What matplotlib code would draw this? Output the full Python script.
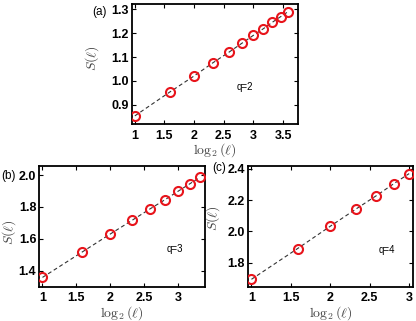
import numpy as np
import matplotlib
matplotlib.use("Agg")
import matplotlib.pyplot as plt

plt.rcParams['mathtext.fontset'] = 'cm'
plt.rcParams['font.family'] = ['Liberation Sans', 'DejaVu Sans']

# Data
x_a = [1.0, 1.585, 2.0, 2.322, 2.585, 2.807, 3.0, 3.170, 3.322, 3.459, 3.585]
s_a = [0.854, 0.953, 1.021, 1.077, 1.120, 1.158, 1.191, 1.219, 1.246, 1.269, 1.290]
x_b = [1.0, 1.585, 2.0, 2.322, 2.585, 2.807, 3.0, 3.170, 3.322]
s_b = [1.358, 1.517, 1.630, 1.716, 1.787, 1.845, 1.898, 1.944, 1.985]
x_c = [1.0, 1.585, 2.0, 2.322, 2.585, 2.807, 3.0]
s_c = [1.693, 1.890, 2.033, 2.142, 2.229, 2.306, 2.370]

panels = [
    dict(x=x_a, y=s_a, pos=[0.317, 0.6137, 0.399, 0.3738], xlim=(0.95, 3.75), ylim=(0.82, 1.322),
         xticks=[1, 1.5, 2, 2.5, 3, 3.5], xtl=['1', '1.5', '2', '2.5', '3', '3.5'],
         yticks=[0.9, 1.0, 1.1, 1.2, 1.3], ytl=['0.9', '1.0', '1.1', '1.2', '1.3'],
         tag='(a)', tagpos=(92, 12), q='q=2', qpos=(0.63, 0.31), ylc=(-0.187, 0.55)),
    dict(x=x_b, y=s_b, pos=[0.094, 0.107, 0.399, 0.377], xlim=(0.95, 3.40), ylim=(1.30, 2.059),
         xticks=[1, 1.5, 2, 2.5, 3], xtl=['1', '1.5', '2', '2.5', '3'],
         yticks=[1.4, 1.6, 1.8, 2.0], ytl=['1.4', '1.6', '1.8', '2.0'],
         tag='(b)', tagpos=(1, 176), q='q=3', qpos=(0.77, 0.31), ylc=(-0.13, 0.45)),
    dict(x=x_c, y=s_c, pos=[0.595, 0.107, 0.398, 0.377], xlim=(0.95, 3.05), ylim=(1.646, 2.421),
         xticks=[1, 1.5, 2, 2.5, 3], xtl=['1', '1.5', '2', '2.5', '3'],
         yticks=[1.8, 2.0, 2.2, 2.4], ytl=['1.8', '2.0', '2.2', '2.4'],
         tag='(c)', tagpos=(212, 168), q='q=4', qpos=(0.79, 0.30), ylc=(-0.155, 0.57)),
]

fig = plt.figure(figsize=(4.16, 3.21), dpi=100)
W, H = 416, 321
for p in panels:
    ax = fig.add_axes(p['pos'])
    ax.plot(p['x'], p['y'], linestyle=(0, (3.5, 2.5)), color='#333333', linewidth=0.8, zorder=2)
    ax.plot(p['x'], p['y'], linestyle='none', marker='o', markersize=6.5, markerfacecolor='none',
            markeredgecolor='#e8141b', markeredgewidth=1.5, zorder=3)
    ax.set_xlim(*p['xlim'])
    ax.set_ylim(*p['ylim'])
    ax.set_xticks(p['xticks'])
    ax.set_xticklabels(p['xtl'])
    ax.set_yticks(p['yticks'])
    ax.set_yticklabels(p['ytl'])
    ax.tick_params(direction='in', top=True, right=True, length=3, width=0.8,
                   labelsize=9, pad=2)
    ax.tick_params(axis='x', pad=4)
    for lab in ax.get_xticklabels() + ax.get_yticklabels():
        lab.set_fontweight('bold')
    for s in ax.spines.values():
        s.set_linewidth(1.3)
    ax.set_xlabel(r'$\log_2(\ell)$', fontsize=10, color='#444444', labelpad=0)
    ax.set_ylabel(r'$S(\ell)$', fontsize=10, color='#444444')
    ax.yaxis.set_label_coords(*p['ylc'])
    ax.text(p['qpos'][0], p['qpos'][1], p['q'], transform=ax.transAxes, fontsize=7,
            ha='left', va='center')
    fig.text(p['tagpos'][0] / W, 1 - p['tagpos'][1] / H, p['tag'], fontsize=8.5,
             ha='left', va='center')

fig.savefig('out.png', dpi=100)
